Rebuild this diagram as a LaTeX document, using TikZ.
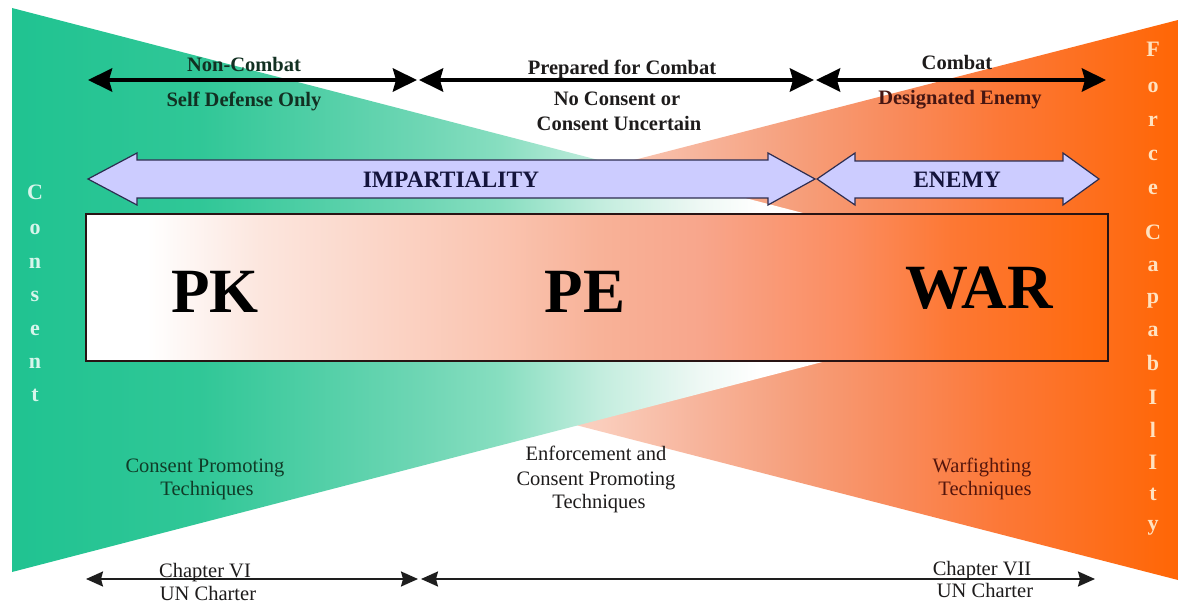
\documentclass[tikz,border=0pt]{standalone}
\usepackage{fontspec}
\setmainfont{Liberation Serif}
\usetikzlibrary{arrows.meta}
% colours
\definecolor{grA}{RGB}{32,195,145}
\definecolor{grB}{RGB}{48,199,151}
\definecolor{grC}{RGB}{110,214,180}
\definecolor{grD}{RGB}{135,222,192}
\definecolor{grE}{RGB}{195,237,222}
\definecolor{grF}{RGB}{238,248,244}
\definecolor{orA}{RGB}{253,236,229}
\definecolor{orB}{RGB}{252,220,208}
\definecolor{orC}{RGB}{250,205,188}
\definecolor{orD}{RGB}{247,180,155}
\definecolor{orE}{RGB}{246,158,122}
\definecolor{orF}{RGB}{249,138,90}
\definecolor{orG}{RGB}{252,120,55}
\definecolor{orH}{RGB}{255,102,5}
\definecolor{bxA}{RGB}{252,230,222}
\definecolor{bxB}{RGB}{250,196,176}
\definecolor{bxC}{RGB}{248,178,152}
\definecolor{bxD}{RGB}{248,166,140}
\definecolor{bxE}{RGB}{251,140,95}
\definecolor{bxF}{RGB}{253,120,52}
\definecolor{bxG}{RGB}{255,105,12}
\definecolor{lav}{RGB}{204,204,255}
\definecolor{arrborder}{RGB}{45,45,80}
\definecolor{navytext}{RGB}{20,20,60}
\definecolor{boxborder}{RGB}{40,20,20}
\definecolor{linegray}{RGB}{30,30,30}
\definecolor{mint}{RGB}{215,245,235}
\definecolor{peach}{RGB}{255,226,192}
\definecolor{txgreen}{RGB}{18,48,34}
\definecolor{txdark}{RGB}{30,28,28}
\definecolor{txred}{RGB}{70,22,18}
\definecolor{txlgreen}{RGB}{16,60,40}
\definecolor{txlred}{RGB}{85,22,12}
% shadings
\pgfdeclarehorizontalshading{grsh}{100bp}{color(0bp)=(grA); color(25bp)=(grA); color(33.6bp)=(grB); color(43.75bp)=(grC); color(47.43bp)=(grD); color(52.02bp)=(grE); color(56.62bp)=(grF); color(59.38bp)=(white); color(100bp)=(white)}
\pgfdeclarehorizontalshading{orsh}{100bp}{color(0bp)=(orA); color(25bp)=(orA); color(39.25bp)=(orB); color(48.44bp)=(orC); color(53.03bp)=(orD); color(57.63bp)=(orE); color(62.22bp)=(orF); color(66.82bp)=(orG); color(75bp)=(orH); color(100bp)=(orH)}
\pgfdeclarehorizontalshading{boxsh}{100bp}{color(0bp)=(white); color(25bp)=(white); color(28bp)=(white); color(33.5bp)=(bxA); color(45.3bp)=(bxB); color(50.1bp)=(bxC); color(55bp)=(bxD); color(62.4bp)=(bxE); color(67.3bp)=(bxF); color(75bp)=(bxG); color(100bp)=(bxG)}
\tikzset{
  toplbl/.style={font=\fontsize{20.5}{24}\selectfont\bfseries, inner sep=0pt, anchor=base},
  lowlbl/.style={font=\fontsize{20.5}{24}\selectfont, inner sep=0pt, anchor=base},
  biglbl/.style={font=\fontsize{63}{70}\selectfont\bfseries, inner sep=0pt, anchor=base},
  arrlbl/.style={font=\fontsize{23.5}{28}\selectfont\bfseries, inner sep=0pt, anchor=base, text=navytext},
  vlet/.style={font=\fontsize{22}{24}\selectfont\bfseries, inner sep=0pt, anchor=base},
  thickarr/.style={line width=4.5pt, {Stealth[length=24pt,width=23pt,inset=3pt]}-{Stealth[length=24pt,width=23pt,inset=3pt]}},
  thinarr/.style={line width=2pt, draw=linegray, {Stealth[length=17pt,width=15pt,inset=2pt]}-{Stealth[length=17pt,width=15pt,inset=2pt]}},
  blockarr/.style={draw=arrborder, line width=1.2pt, fill=lav, line join=miter},
}
\begin{document}
\begin{tikzpicture}[x=1pt,y=-1pt]
\useasboundingbox (0,0) rectangle (1178,604);
\fill[white] (0,0) rectangle (1178,604);
% orange triangle (below), green triangle (above)
\shade[shading=orsh] (1178,20) -- (1178,580) -- (90,300) -- cycle;
\shade[shading=grsh] (12,8) -- (12,572) -- (1100,290) -- cycle;
% central box
\node[draw=boxborder, line width=1.5pt, shade, shading=boxsh, minimum width=1022pt, minimum height=147pt, inner sep=0pt] (box) at (597,287.5) {};
\node[biglbl] (pk) at (215,312) {PK};
\node[biglbl] (pe) at (585,312) {PE};
\node[biglbl] (war) at (979,308) {WAR};
% block arrows
\path[blockarr] (88,179) -- (137,153) -- (137,160) -- (768,160) -- (768,153) -- (815,179) -- (768,205) -- (768,198) -- (137,198) -- (137,205) -- cycle;
\path[blockarr] (817,179) -- (855,153) -- (855,161) -- (1063,161) -- (1063,153) -- (1099,179) -- (1063,205) -- (1063,198) -- (855,198) -- (855,205) -- cycle;
\node[arrlbl] (imp) at (451,188) {IMPARTIALITY};
\node[arrlbl] (enemy) at (957,188) {ENEMY};
% top line arrows
\coordinate (ta) at (88,80);
\coordinate (tb) at (417,80);
\coordinate (tc) at (419,80);
\coordinate (td) at (814,80);
\coordinate (te) at (816,80);
\coordinate (tf) at (1106,80);
\draw[thickarr] (ta) -- (tb);
\draw[thickarr] (tc) -- (td);
\draw[thickarr] (te) -- (tf);
\node[toplbl, text=txgreen] (nc) at (244,72) {Non-Combat};
\node[toplbl, text=txgreen] (sd) at (244,107) {Self Defense Only};
\node[toplbl, text=txdark] (pc) at (622,75) {Prepared for Combat};
\node[toplbl, text=txdark] (nco) at (617,106) {No Consent or};
\node[toplbl, text=txdark] (cu) at (619,131) {Consent Uncertain};
\node[toplbl, text=txdark] (cb) at (957,70) {Combat};
\node[toplbl, text=txred] (de) at (960,105) {Designated Enemy};
% lower labels
\node[lowlbl, text=txlgreen] (cp1) at (205,472) {Consent Promoting};
\node[lowlbl, text=txlgreen] (cp2) at (207,495) {Techniques};
\node[lowlbl, text=txdark] (ec1) at (596,460) {Enforcement and};
\node[lowlbl, text=txdark] (ec2) at (596,485) {Consent Promoting};
\node[lowlbl, text=txdark] (ec3) at (599,508) {Techniques};
\node[lowlbl, text=txlred] (wf1) at (982,472) {Warfighting};
\node[lowlbl, text=txlred] (wf2) at (985,495) {Techniques};
% bottom line arrows
\coordinate (ba) at (86,579);
\coordinate (bb) at (418,579);
\coordinate (bc) at (421,579);
\coordinate (bd) at (1095,579);
\draw[thinarr] (ba) -- (bb);
\draw[thinarr] (bc) -- (bd);
\node[lowlbl, text=txdark] (ch6) at (205,577) {Chapter VI};
\node[lowlbl, text=txdark] (un1) at (208,600) {UN Charter};
\node[lowlbl, text=txdark] (ch7) at (982,575) {Chapter VII};
\node[lowlbl, text=txdark] (un2) at (985,597) {UN Charter};
% vertical words
\foreach \l/\yy [count=\i] in {C/200,o/234,n/268,s/301,e/335,n/368,t/401}
  \node[vlet, text=mint] (cons\i) at (35,\yy) {\l};
\foreach \l/\yy [count=\i] in {F/57,o/93,r/127,c/161,e/195,C/240,a/272,p/303,a/336,b/370,I/404,l/437,I/469,t/500,y/530}
  \node[vlet, text=peach] (force\i) at (1153,\yy) {\l};
\end{tikzpicture}
\end{document}
